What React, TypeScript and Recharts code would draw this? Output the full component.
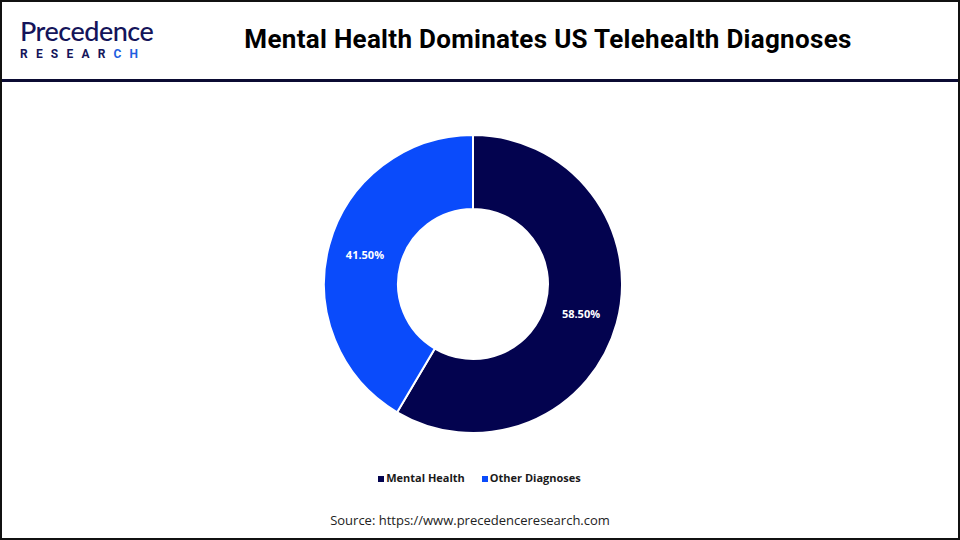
import React from 'react';
import { PieChart, Pie, Cell, Legend } from 'recharts';

const categories = ['Mental Health', 'Other Diagnoses'];
const shares = [58.5, 41.5];
const colors = ['#03034f', '#0a4bfb'];

const data = categories.map((name, i) => ({ name, value: shares[i] }));

const RADIAN = Math.PI / 180;

const renderLabel = (props: any) => {
  const { cx, cy, midAngle, innerRadius, outerRadius, value } = props;
  const r = (innerRadius + outerRadius) / 2;
  const x = cx + r * Math.cos(-midAngle * RADIAN);
  const y = cy + r * Math.sin(-midAngle * RADIAN);
  return (
    <text
      x={x}
      y={y}
      fill="#ffffff"
      textAnchor="middle"
      dominantBaseline="central"
      fontSize={11}
      fontWeight={700}
      fontFamily="'Open Sans', sans-serif"
    >
      {value.toFixed(2)}%
    </text>
  );
};

const App = () => {
  return (
    <div
      style={{
        position: 'fixed',
        top: 0,
        left: 0,
        width: 960,
        height: 540,
        background: '#fff',
        fontFamily: "'Open Sans', sans-serif",
      }}
    >
      <PieChart
        width={960}
        height={540}
        margin={{ top: 0, right: 0, bottom: 0, left: 0 }}
        style={{ position: 'absolute', top: 0, left: 0 }}
      >
        <Pie
          data={data}
          dataKey="value"
          nameKey="name"
          cx={473}
          cy={284}
          innerRadius={75}
          outerRadius={149}
          startAngle={90}
          endAngle={-270}
          stroke="#ffffff"
          strokeWidth={2}
          label={renderLabel}
          labelLine={false}
          isAnimationActive={false}
        >
          {data.map((d, i) => (
            <Cell key={d.name} fill={colors[i]} />
          ))}
        </Pie>
        <Legend
          layout="horizontal"
          verticalAlign="bottom"
          align="center"
          iconType="square"
          iconSize={6}
          wrapperStyle={{ top: 470, bottom: 'auto', left: 8, width: 960, fontSize: 11, fontWeight: 700 }}
          formatter={(value: string) => (
            <span style={{ color: '#1a1a1a', marginLeft: -2, marginRight: 7 }}>{value}</span>
          )}
        />
      </PieChart>

      {/* header */}
      <div style={{ position: 'absolute', top: 17, left: 20, lineHeight: 1 }}>
        <div
          style={{
            fontSize: 27,
            fontWeight: 500,
            color: '#14145a',
            fontFamily: 'Lato, sans-serif',
            letterSpacing: -0.5,
          }}
        >
          Precedence
        </div>
        <div
          style={{
            fontSize: 12,
            fontWeight: 700,
            color: '#14145a',
            letterSpacing: 8.2,
            marginTop: 4,
            fontFamily: 'Roboto, sans-serif',
          }}
        >
          RESEAR<span style={{ color: '#1f5fe0' }}>CH</span>
        </div>
      </div>
      <div
        style={{
          position: 'absolute',
          top: 24,
          left: 140,
          width: 816,
          textAlign: 'center',
          fontSize: 26,
          fontWeight: 700,
          letterSpacing: 0.3,
          color: '#000',
          fontFamily: 'Roboto, sans-serif',
        }}
      >
        Mental Health Dominates US Telehealth Diagnoses
      </div>
      <div
        style={{
          position: 'absolute',
          top: 79,
          left: 0,
          width: 960,
          height: 3,
          background: '#0b0b33',
        }}
      />
      <div
        style={{
          position: 'absolute',
          top: 511,
          left: 0,
          width: 940,
          textAlign: 'center',
          fontSize: 13,
          color: '#222',
        }}
      >
        Source: https://www.precedenceresearch.com
      </div>
      <div
        style={{
          position: 'absolute',
          top: 0,
          left: 0,
          width: 960,
          height: 540,
          boxSizing: 'border-box',
          border: '2px solid #111',
          pointerEvents: 'none',
        }}
      />
    </div>
  );
};

export default App;
